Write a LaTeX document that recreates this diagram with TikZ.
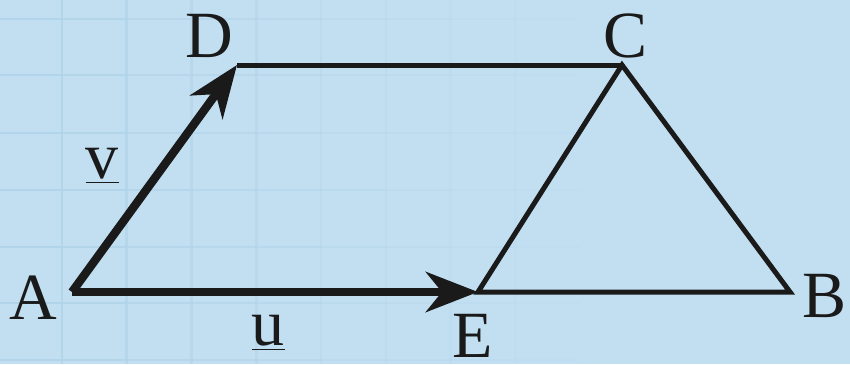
\documentclass[tikz,border=0pt]{standalone}
\usepackage{fontspec}
\setmainfont{Liberation Serif}
\usepackage{tikz}
\usetikzlibrary{arrows.meta}
\definecolor{paper}{HTML}{C1DFF1}
\definecolor{gridline}{HTML}{B2D4EA}
\definecolor{ink}{HTML}{1A1A1A}

\begin{document}
\begin{tikzpicture}[x=0.5pt,y=-0.5pt,
  side/.style={draw=ink,line width=2.5pt,line join=miter},
  vec/.style={draw=ink,line width=4.2pt,-{Stealth[length=26pt,width=20pt,inset=8pt]}},
  pt/.style={text=ink,inner sep=0pt,font=\fontsize{33}{33}\selectfont}]
\fill[paper] (0,0) rectangle (850,364);
\useasboundingbox (0,0) rectangle (850,364);
% faint squared paper, fading out to the right
\foreach \i in {0,...,8} {
  \pgfmathsetmacro{\op}{1-\i/9}
  \pgfmathsetmacro{\gx}{-3+64.8*\i}
  \draw[gridline,line width=1.3pt,opacity=\op] (\gx,0) -- (\gx,364);
  \foreach \gy in {19,75,133,190,247,303,360}
    \draw[gridline,line width=1.3pt,opacity=\op] (\gx,\gy) -- ++(64.8,0);
}
\coordinate (A) at (72,292);
\coordinate (E) at (478,292);
\coordinate (B) at (790,292);
\coordinate (C) at (622,65);
\coordinate (D) at (237,65);
\draw[side] (D) -- (C);
\draw[side] (E) -- (C) -- (B) -- cycle;
\draw[vec] (A) -- (D);
\draw[vec] (A) -- (E);
\node[pt] (la) at (33,298) {A};
\node[pt] (ld) at (209,36) {D};
\node[pt] (lc) at (626,36) {C};
\node[pt] (lb) at (824,296) {B};
\node[pt] (le) at (473,336) {E};
\node[pt] (lv) at (102,166) {\underline{v}};
\node[pt] (lu) at (268,333) {\underline{u}};
\end{tikzpicture}
\end{document}
